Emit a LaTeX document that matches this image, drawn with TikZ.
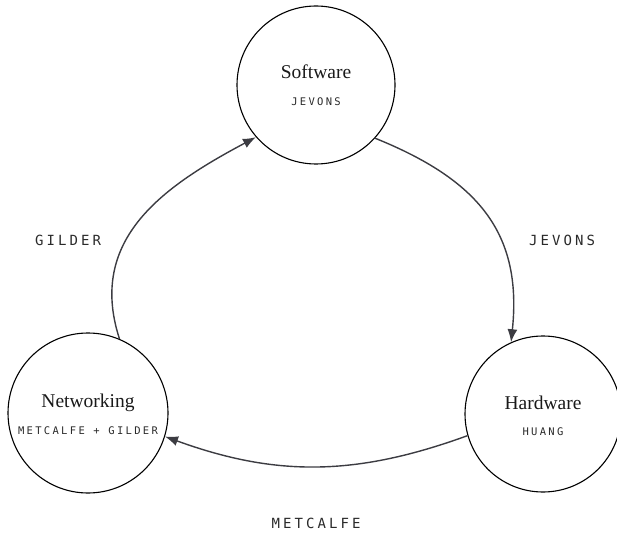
\documentclass[tikz,border=0pt]{standalone}
\usepackage{fontspec}
\usepackage{tikz}
\usetikzlibrary{arrows.meta,positioning}
\newfontfamily\serifttl{Liberation Serif}
\newfontfamily\monolbl[LetterSpace=22]{DejaVu Sans Mono}
\definecolor{edgegray}{HTML}{3C3C42}
\definecolor{lblgray}{HTML}{2A2A2A}

\begin{document}
\begin{tikzpicture}[x=1pt, y=-1pt,
    hub/.style={draw=black, line width=1.1pt, circle, minimum size=158pt, inner sep=0pt},
    title/.style={font=\serifttl\fontsize{19.5}{22}\selectfont, text=black!90},
    sublbl/.style={font=\monolbl\fontsize{10.5}{12}\selectfont, text=lblgray},
    edgelbl/.style={font=\monolbl\fontsize{14}{16}\selectfont, text=lblgray},
    flow/.style={draw=edgegray, line width=1.4pt, -{Latex[length=13pt,width=10pt]}}]
        \useasboundingbox (0,0) rectangle (617,534);

        % Circles
        \node[hub] (soft) at (316,85) {};
        \node[hub, minimum size=160pt] (net) at (88,413) {};
        \node[hub, minimum size=156pt] (hard) at (543,414) {};

        % Names inside the circles
        \node[title] (softT) at (316,72) {Software};
        \node[sublbl] (softS) at (316,102) {JEVONS};
        \node[title] (netT) at (88,403) {Networking};
        \node[sublbl] (netS) at (88,431) {METCALFE + GILDER};
        \node[title] (hardT) at (543,403) {Hardware};
        \node[sublbl] (hardS) at (543,432) {HUANG};

        % Cycle
        \draw[flow] (net.67) to[out=108, in=208, looseness=1.1] (soft.221);
        \draw[flow] (soft.-42) to[out=-22, in=84, looseness=1.15] (hard.114);
        \draw[flow] (hard.196) to[out=200, in=-20] (net.-17);

        % Edge labels
        \node[edgelbl] (gilder) at (68,240) {GILDER};
        \node[edgelbl] (jevons) at (562,240) {JEVONS};
        \node[edgelbl] (metcalfe) at (316,523) {METCALFE};
    \end{tikzpicture}
\end{document}
